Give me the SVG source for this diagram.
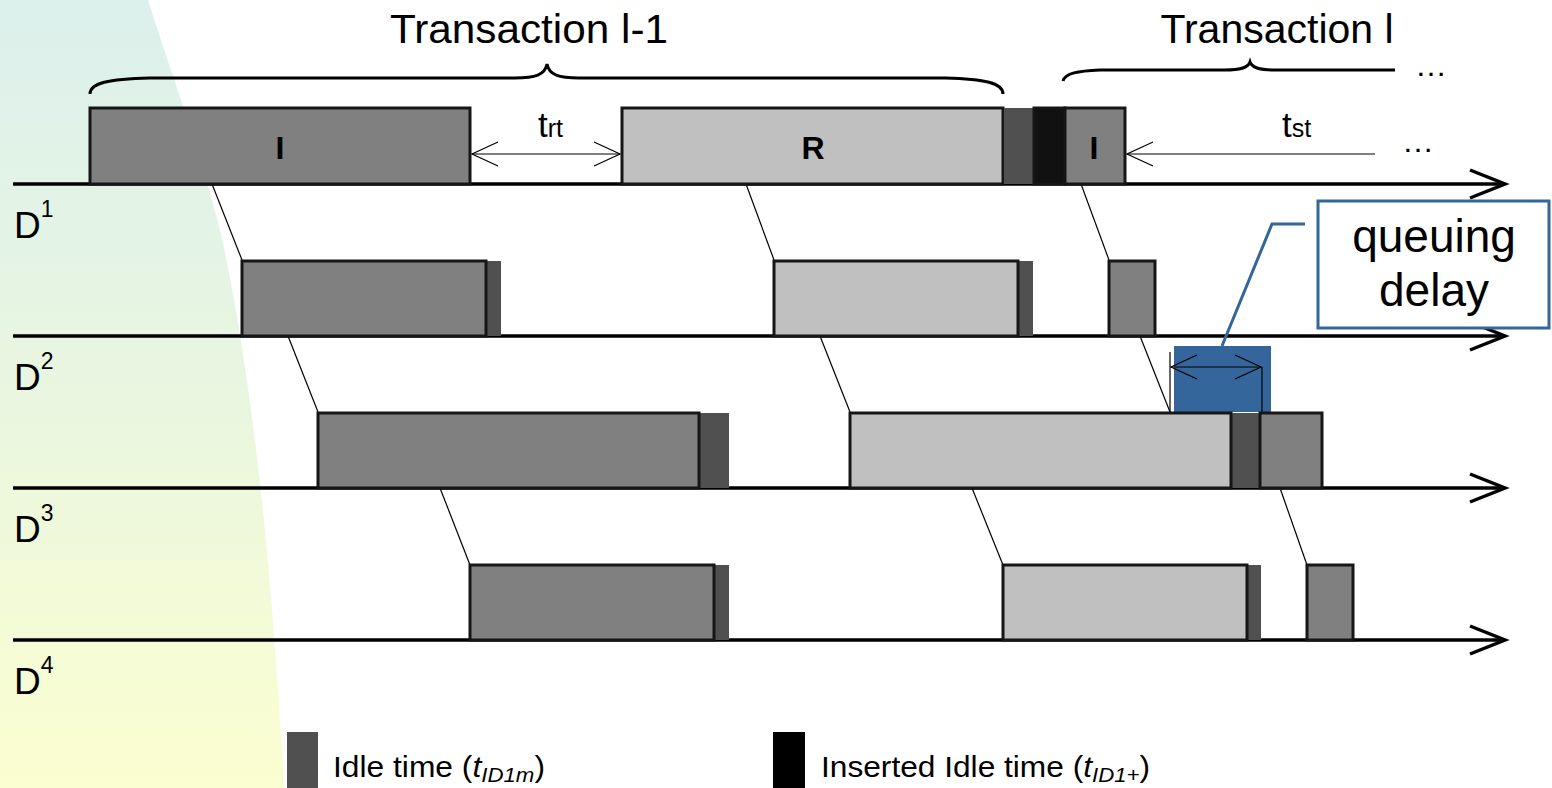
<svg xmlns="http://www.w3.org/2000/svg" width="1552" height="788" viewBox="0 0 1552 788">
<defs>
<linearGradient id="bg" x1="0" y1="0" x2="0" y2="1">
<stop offset="0" stop-color="#dcf0ec"/>
<stop offset="0.5" stop-color="#e9f6e0"/>
<stop offset="1" stop-color="#fbfed0"/>
</linearGradient>
<marker id="lane" markerUnits="userSpaceOnUse" markerWidth="40" markerHeight="34" refX="36" refY="17" orient="auto" overflow="visible">
<polyline points="1,3 36,17 1,31" fill="none" stroke="#000" stroke-width="3.5"/>
</marker>
<marker id="small" markerUnits="userSpaceOnUse" markerWidth="30" markerHeight="30" refX="26" refY="13" orient="auto-start-reverse" overflow="visible">
<polyline points="0,1 26,13 0,25" fill="none" stroke="#000" stroke-width="1.2"/>
</marker>
</defs>
<style>
.lane{stroke:#000;stroke-width:3.5;fill:none}
.blkI{fill:#808080;stroke:#161616;stroke-width:3}
.blkR{fill:#c0c0c0;stroke:#161616;stroke-width:3}
.idle{fill:#505050}
.ins{fill:#111;stroke:#161616;stroke-width:3}
.conn{stroke:#000;stroke-width:1.2;fill:none}
.brace{stroke:#000;stroke-width:3;fill:none}
.t{font-family:"Liberation Sans",Arial,sans-serif;fill:#000}
.dim{stroke:#000;stroke-width:1.2;fill:none}
.blue{stroke:#336699;stroke-width:3;fill:none}
</style>
<path d="M0,0 L148,0 C170,70 200,150 220,230 C245,340 270,520 284,788 L0,788 Z" fill="url(#bg)"/>

<g id="lanes">
<line class="lane" x1="13" y1="184" x2="1505" y2="184" marker-end="url(#lane)"/>
<line class="lane" x1="13" y1="336" x2="1505" y2="336" marker-end="url(#lane)"/>
<line class="lane" x1="13" y1="488" x2="1505" y2="488" marker-end="url(#lane)"/>
<line class="lane" x1="13" y1="640" x2="1505" y2="640" marker-end="url(#lane)"/>
</g>

<g id="labels">
<text class="t" x="14" y="238" font-size="37">D<tspan font-size="23" dy="-21">1</tspan></text>
<text class="t" x="14" y="390" font-size="37">D<tspan font-size="23" dy="-21">2</tspan></text>
<text class="t" x="14" y="542" font-size="37">D<tspan font-size="23" dy="-21">3</tspan></text>
<text class="t" x="14" y="694" font-size="37">D<tspan font-size="23" dy="-21">4</tspan></text>
</g>

<g id="transaction-l-1">
<path class="brace" d="M90,94 C90,83 108,79 150,78 L515,78 C535,78 545,75 547,64 C549,75 559,78 579,78 L945,78 C985,79 1003,83 1003,94"/>
<text class="t" x="529" y="43" font-size="41" text-anchor="middle" textLength="278" lengthAdjust="spacingAndGlyphs">Transaction l-1</text>
</g>
<g id="transaction-l">
<path class="brace" d="M1063,81 C1065,73 1078,71 1100,70 L1225,70 C1240,70 1248,68 1250,62 C1252,68 1260,70 1275,70 L1395,70"/>
<text class="t" x="1277" y="43" font-size="41" text-anchor="middle">Transaction l</text>
<text class="t" x="1415" y="76" font-size="32">…</text>
</g>

<g id="connectors">
<line class="conn" x1="212" y1="184" x2="242" y2="260"/>
<line class="conn" x1="746" y1="184" x2="774" y2="260"/>
<line class="conn" x1="1081" y1="184" x2="1109" y2="260"/>
<line class="conn" x1="288" y1="336" x2="318" y2="412"/>
<line class="conn" x1="820" y1="336" x2="850" y2="412"/>
<line class="conn" x1="1140" y1="336" x2="1170" y2="412"/>
<line class="conn" x1="440" y1="488" x2="470" y2="565"/>
<line class="conn" x1="972" y1="488" x2="1003" y2="565"/>
<line class="conn" x1="1280" y1="488" x2="1307" y2="565"/>
</g>

<g id="d1-blocks">
<rect class="blkI" x="90" y="108" width="380" height="76"/>
<text class="t" x="280" y="159" font-size="32" font-weight="bold" text-anchor="middle">I</text>
<rect class="blkR" x="622" y="108" width="381" height="76"/>
<text class="t" x="813" y="159" font-size="32" font-weight="bold" text-anchor="middle">R</text>
<rect class="idle" x="1004" y="108" width="30" height="76"/>
<rect class="ins" x="1034" y="108" width="31" height="76"/>
<rect class="blkI" x="1065" y="108" width="60" height="76"/>
<text class="t" x="1094" y="159" font-size="32" font-weight="bold" text-anchor="middle">I</text>
</g>

<g id="t-rt">
<line class="dim" x1="472" y1="154" x2="620" y2="154" marker-start="url(#small)" marker-end="url(#small)"/>
<text class="t" x="538" y="137" font-size="35">t<tspan font-size="25">rt</tspan></text>
</g>
<g id="t-st">
<line class="dim" x1="1375" y1="154" x2="1127" y2="154" marker-end="url(#small)"/>
<text class="t" x="1282" y="137" font-size="35">t<tspan font-size="25">st</tspan></text>
<text class="t" x="1402" y="152" font-size="32">…</text>
</g>

<g id="d2-blocks">
<rect class="idle" x="487" y="261" width="14" height="75"/>
<rect class="blkI" x="242" y="261" width="244" height="75"/>
<rect class="idle" x="1019" y="261" width="14" height="75"/>
<rect class="blkR" x="774" y="261" width="244" height="75"/>
<rect class="blkI" x="1109" y="261" width="46" height="75"/>
</g>

<g id="queuing">
<rect x="1174" y="346" width="97" height="66" fill="#34669b"/>
<line class="dim" x1="1170" y1="352" x2="1170" y2="412"/>
<line class="dim" x1="1262" y1="367" x2="1262" y2="412"/>
<line class="dim" x1="1171" y1="367" x2="1261" y2="367" marker-start="url(#small)" marker-end="url(#small)"/>
</g>

<g id="d3-blocks">
<rect class="idle" x="700" y="413" width="29" height="75"/>
<rect class="blkI" x="318" y="413" width="381" height="75"/>
<rect class="idle" x="1231" y="413" width="29" height="75"/>
<rect class="blkR" x="850" y="413" width="381" height="75"/>
<rect class="blkI" x="1260" y="413" width="62" height="75"/>
</g>

<g id="d4-blocks">
<rect class="idle" x="715" y="565" width="14" height="75"/>
<rect class="blkI" x="470" y="565" width="244" height="75"/>
<rect class="idle" x="1247" y="565" width="14" height="75"/>
<rect class="blkR" x="1003" y="565" width="244" height="75"/>
<rect class="blkI" x="1307" y="565" width="46" height="75"/>
</g>

<g id="callout">
<polyline class="blue" points="1305,224 1272,224 1222,346"/>
<rect x="1318" y="201" width="231" height="127" fill="#fff" stroke="#336699" stroke-width="3"/>
<text class="t" x="1434" y="252" font-size="46" text-anchor="middle">queuing</text>
<text class="t" x="1434" y="306" font-size="46" text-anchor="middle">delay</text>
</g>

<g id="legend">
<rect x="287" y="732" width="31" height="56" fill="#505050"/>
<text class="t" x="333" y="777" font-size="30" textLength="212" lengthAdjust="spacingAndGlyphs">Idle time (<tspan font-style="italic">t</tspan><tspan font-style="italic" font-size="21" dy="5">ID1m</tspan><tspan dy="-5">)</tspan></text>
<rect x="773" y="732" width="32" height="56" fill="#000"/>
<text class="t" x="821" y="777" font-size="30" textLength="329" lengthAdjust="spacingAndGlyphs">Inserted Idle time (<tspan font-style="italic">t</tspan><tspan font-style="italic" font-size="21" dy="5">ID1+</tspan><tspan dy="-5">)</tspan></text>
</g>
</svg>
